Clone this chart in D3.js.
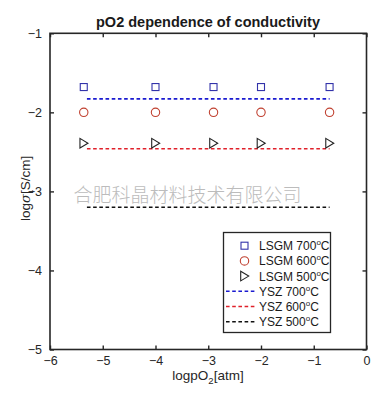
<!DOCTYPE html>
<html><head><meta charset="utf-8">
<script src="https://cdn.jsdelivr.net/npm/d3@7"></script>
<style>body{margin:0;background:#fff}svg{display:block}text{font-family:"Liberation Sans",Arial,sans-serif}</style>
</head><body><svg id="c" width="383" height="397"></svg>
<script>
const logpO2 = [-5.36, -4, -2.9, -2, -0.7];
const lsgm700 = [-1.68, -1.68, -1.68, -1.68, -1.68];
const lsgm600 = [-2.0, -2.0, -2.0, -2.0, -2.0];
const lsgm500 = [-2.39, -2.39, -2.39, -2.39, -2.39];
const yszX = [-5.3, -0.7];
const ysz700 = [-1.83, -1.83];
const ysz600 = [-2.46, -2.46];
const ysz500 = [-3.2, -3.2];
const xTicks = [-6, -5, -4, -3, -2, -1, 0];
const yTicks = [-5, -4, -3, -2, -1];
const legendLabels = ["LSGM 700", "LSGM 600", "LSGM 500", "YSZ 700", "YSZ 600", "YSZ 500"];

const svg = d3.select("#c");
const L = 50, R = 366.5, T = 33.3, B = 349.5;
const x = d3.scaleLinear().domain([-6, 0]).range([L, R]);
const y = d3.scaleLinear().domain([-5, -1]).range([B, T]);

// watermark
svg.append("text").attr("x", 187.5).attr("y", 202).attr("text-anchor", "middle")
  .attr("font-size", 19).attr("fill", "#bcbcbc")
  .style("font-family", "'Noto Sans CJK SC'").attr("font-weight", 300)
  .text("合肥科晶材料技术有限公司");

// axes
const axCol = "#262626";
const tl = 4;
const gx = svg.append("g").attr("transform", `translate(0,${B})`)
  .call(d3.axisBottom(x).tickValues(xTicks).tickSize(-tl).tickPadding(tl + 3).tickFormat(d3.format("d")));
const gxt = svg.append("g").attr("transform", `translate(0,${T})`)
  .call(d3.axisTop(x).tickValues(xTicks).tickSize(-tl).tickFormat(""));
const gy = svg.append("g").attr("transform", `translate(${L},0)`)
  .call(d3.axisLeft(y).tickValues(yTicks).tickSize(-tl).tickPadding(tl + 4).tickFormat(d3.format("d")));
const gyr = svg.append("g").attr("transform", `translate(${R},0)`)
  .call(d3.axisRight(y).tickValues(yTicks).tickSize(-tl).tickFormat(""));
[gx, gxt, gy, gyr].forEach(g => {
  g.select(".domain").remove();
  g.selectAll("line").attr("stroke", axCol).attr("stroke-width", 1.4);
  g.selectAll("text").attr("font-size", 12.5).attr("fill", "#262626").style("font-family", "'Liberation Sans',Arial");
});
gx.selectAll("text").attr("dy", "0.71em");
svg.append("rect").attr("x", L).attr("y", T).attr("width", R - L).attr("height", B - T)
  .attr("fill", "none").attr("stroke", axCol).attr("stroke-width", 1.6);

// lines
const line = d3.line().x(d => x(d[0])).y(d => y(d[1]));
const dash = "3.6,2.6";
[[ysz700, "#1a1ad0"], [ysz600, "#e0202a"], [ysz500, "#111"]].forEach(([v, c]) => {
  svg.append("path").datum(yszX.map((xv, i) => [xv, v[i]])).attr("d", line)
    .attr("fill", "none").attr("stroke", c).attr("stroke-width", 1.6).attr("stroke-dasharray", dash);
});

// markers
const sqCol = "#3333aa", ciCol = "#c04030", trCol = "#222";
function square(g, cx, cy) { g.append("rect").attr("x", cx - 3.5).attr("y", cy - 3.5).attr("width", 7).attr("height", 7).attr("fill", "none").attr("stroke", sqCol).attr("stroke-width", 1.1); }
function circle(g, cx, cy) { g.append("circle").attr("cx", cx).attr("cy", cy).attr("r", 4.2).attr("fill", "none").attr("stroke", ciCol).attr("stroke-width", 1.1); }
function tri(g, cx, cy) { g.append("path").attr("d", `M${cx - 3.8},${cy - 4.8}L${cx + 4.2},${cy}L${cx - 3.8},${cy + 4.8}Z`).attr("fill", "none").attr("stroke", trCol).attr("stroke-width", 1.1); }
const mg = svg.append("g");
logpO2.forEach((xv, i) => {
  square(mg, x(xv), y(lsgm700[i]));
  circle(mg, x(xv), y(lsgm600[i]));
  tri(mg, x(xv), y(lsgm500[i]));
});

// title
svg.append("text").attr("x", 208).attr("y", 27).attr("text-anchor", "middle")
  .attr("font-size", 14.5).attr("font-weight", "bold").attr("fill", "#1a1a1a").text("pO2 dependence of conductivity");

// axis labels
const xl = svg.append("text").attr("x", 208).attr("y", 380).attr("text-anchor", "middle").attr("font-size", 13.5).attr("fill", "#262626");
xl.append("tspan").text("logpO");
xl.append("tspan").attr("font-size", 9.5).attr("dy", 4).text("2");
xl.append("tspan").attr("dy", -4).text("[atm]");
const yl = svg.append("text").attr("transform", `translate(30,${(T + B) / 2 - 3}) rotate(-90)`).attr("text-anchor", "middle").attr("font-size", 13.5).attr("fill", "#262626");
yl.append("tspan").text("log");
yl.append("tspan").style("font-style", "italic").style("font-family", "'DejaVu Serif',serif").attr("font-size", 13).text("σ");
yl.append("tspan").text("[S/cm]");

// legend
const lg = svg.append("g");
lg.append("rect").attr("x", 223.5).attr("y", 232.5).attr("width", 107).attr("height", 100)
  .attr("fill", "#fff").attr("stroke", axCol).attr("stroke-width", 1.3);
const ly0 = 245.7, ldy = 15.2;
legendLabels.forEach((lab, i) => {
  const yy = ly0 + i * ldy;
  if (i === 0) square(lg, 244.5, yy);
  if (i === 1) circle(lg, 244.5, yy);
  if (i === 2) tri(lg, 244.5, yy);
  if (i >= 3) {
    const c = ["#1a1ad0", "#e0202a", "#111"][i - 3];
    lg.append("line").attr("x1", 226).attr("x2", 255).attr("y1", yy).attr("y2", yy)
      .attr("stroke", c).attr("stroke-width", 1.6).attr("stroke-dasharray", dash);
  }
  const t = lg.append("text").attr("x", 259).attr("y", yy + 4.5).attr("font-size", 12).attr("fill", "#1a1a1a");
  t.append("tspan").text(lab);
  t.append("tspan").attr("font-size", 8).attr("dy", -5).text("o");
  t.append("tspan").attr("dy", 5).text("C");
});
</script></body></html>
